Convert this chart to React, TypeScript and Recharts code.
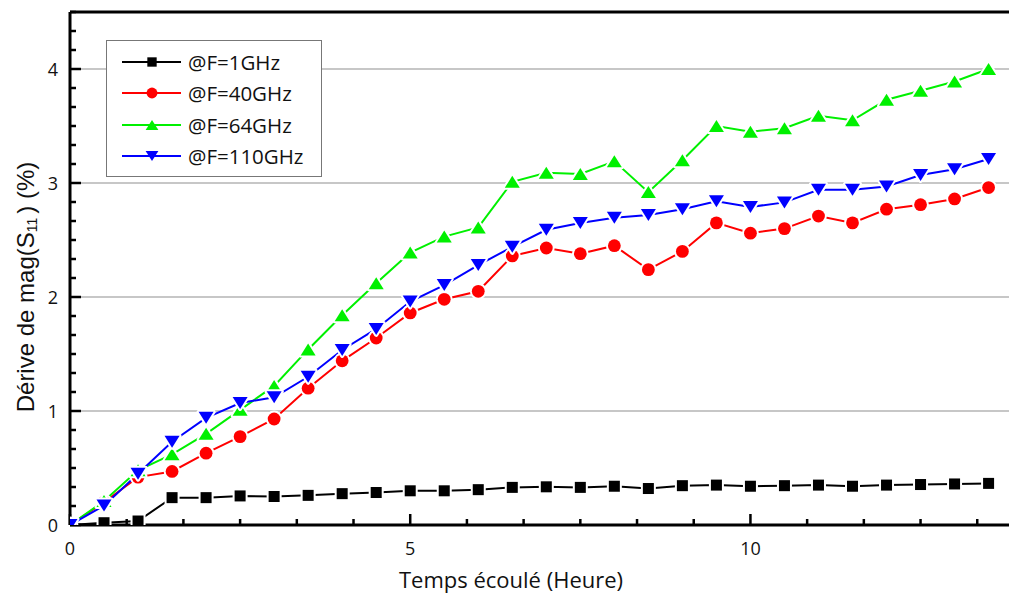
import { LineChart, Line, XAxis, YAxis, ReferenceLine } from 'recharts';

// elapsed time (hours)
const hours = [0, 0.5, 1, 1.5, 2, 2.5, 3, 3.5, 4, 4.5, 5, 5.5, 6, 6.5, 7, 7.5, 8, 8.5, 9, 9.5, 10, 10.5, 11, 11.5, 12, 12.5, 13, 13.5];

// drift of mag(S11) in %
const f1GHz = [0, 0.02, 0.035, 0.24, 0.24, 0.255, 0.25, 0.26, 0.275, 0.285, 0.3, 0.3, 0.31, 0.33, 0.335, 0.33, 0.34, 0.32, 0.345, 0.35, 0.34, 0.345, 0.35, 0.34, 0.35, 0.355, 0.36, 0.365];
const f40GHz = [0, 0.2, 0.42, 0.47, 0.63, 0.775, 0.93, 1.2, 1.44, 1.64, 1.86, 1.98, 2.05, 2.36, 2.43, 2.38, 2.45, 2.24, 2.4, 2.65, 2.56, 2.6, 2.71, 2.65, 2.77, 2.81, 2.86, 2.96];
const f64GHz = [0, 0.21, 0.48, 0.62, 0.8, 1.01, 1.22, 1.54, 1.84, 2.12, 2.39, 2.53, 2.61, 3.01, 3.09, 3.08, 3.19, 2.92, 3.2, 3.5, 3.45, 3.48, 3.59, 3.55, 3.73, 3.81, 3.89, 4.0];
const f110GHz = [0, 0.17, 0.45, 0.73, 0.94, 1.07, 1.12, 1.3, 1.535, 1.72, 1.96, 2.105, 2.28, 2.44, 2.59, 2.65, 2.695, 2.72, 2.77, 2.84, 2.79, 2.83, 2.94, 2.94, 2.97, 3.07, 3.12, 3.21];

const xMajorTicks = [0, 5, 10];
const yMajorTicks = [0, 1, 2, 3, 4];
const xMinorStep = 5 / 6;
const yMinorStep = 1 / 6;

const data = hours.map((h, i) => ({
  h,
  f1: f1GHz[i],
  f40: f40GHz[i],
  f64: f64GHz[i],
  f110: f110GHz[i],
}));

const xMinorTicks = Array.from({ length: 17 }, (_, i) => i * xMinorStep);
const yMinorTicks = Array.from({ length: 28 }, (_, i) => i * yMinorStep);

const W = 1009;
const H = 594;
const M = { top: 12, left: 70, bottom: 69 };
const X_DOMAIN: [number, number] = [0, 13.8];
const Y_DOMAIN: [number, number] = [0, 4.5];
const FONT = "'Open Sans', sans-serif";

// pixel lengths of the inward tick marks, turned into axis units
const xUnitsPerPx = (X_DOMAIN[1] - X_DOMAIN[0]) / (W - M.left);
const yUnitsPerPx = (Y_DOMAIN[1] - Y_DOMAIN[0]) / (H - M.top - M.bottom);
const MAJOR_LEN = 11;
const MINOR_LEN = 6;

const isMajor = (v: number, majors: number[]) => majors.some((m) => Math.abs(m - v) < 1e-6);

type Shape = 'square' | 'circle' | 'up' | 'down';

const series: { key: string; name: string; color: string; shape: Shape }[] = [
  { key: 'f1', name: '@F=1GHz', color: '#000000', shape: 'square' },
  { key: 'f40', name: '@F=40GHz', color: '#ff0000', shape: 'circle' },
  { key: 'f64', name: '@F=64GHz', color: '#00f000', shape: 'up' },
  { key: 'f110', name: '@F=110GHz', color: '#0000ff', shape: 'down' },
];

function Marker({ cx, cy, shape, color, size = 1, halo = false }: { cx: number; cy: number; shape: Shape; color: string; size?: number; halo?: boolean }) {
  const stroke = halo ? '#fff' : 'none';
  const sw = halo ? 4 : 0;
  if (shape === 'square') {
    const s = 11 * size;
    return <rect x={cx - s / 2} y={cy - s / 2} width={s} height={s} fill={color} stroke={stroke} strokeWidth={sw} paintOrder="stroke" />;
  }
  if (shape === 'circle') {
    return <circle cx={cx} cy={cy} r={6.4 * size} fill={color} stroke={stroke} strokeWidth={sw} paintOrder="stroke" />;
  }
  const w = 15 * size;
  const hgt = 12 * size;
  const pts =
    shape === 'up'
      ? `${cx - w / 2},${cy + hgt / 2} ${cx + w / 2},${cy + hgt / 2} ${cx},${cy - hgt / 2}`
      : `${cx - w / 2},${cy - hgt / 2} ${cx + w / 2},${cy - hgt / 2} ${cx},${cy + hgt / 2}`;
  return <polygon points={pts} fill={color} stroke={stroke} strokeWidth={sw} paintOrder="stroke" strokeLinejoin="round" />;
}

const makeDot = (shape: Shape, color: string) => (props: any) => {
  const { cx, cy, index } = props;
  if (cx == null || cy == null) return <g key={`d-${index}`} />;
  return (
    <g key={`d-${index}`}>
      <Marker cx={cx} cy={cy} shape={shape} color={color} halo />
    </g>
  );
};

const XTick = (props: any) => {
  const { x, y, payload } = props;
  return (
    <text x={x} y={y + 23} textAnchor="middle" dominantBaseline="central" fontFamily={FONT} fontSize={18} fill="#111">
      {payload.value}
    </text>
  );
};

const YTick = (props: any) => {
  const { x, y, payload } = props;
  return (
    <text x={x - 12} y={y} textAnchor="end" dominantBaseline="central" fontFamily={FONT} fontSize={18} fill="#111">
      {payload.value}
    </text>
  );
};

const YLabel = () => (
  <text
    x={25}
    y={287}
    transform="rotate(-90, 25, 287)"
    textAnchor="middle"
    dominantBaseline="central"
    fontFamily="'Liberation Sans', Arial, sans-serif"
    fontSize={24}
    fill="#111"
  >
    Dérive de mag(S
    <tspan fontSize={14} dy={7}>11</tspan>
    <tspan dy={-7} dx={4}>) (%)</tspan>
  </text>
);

const XLabel = () => (
  <text x={511} y={579} textAnchor="middle" dominantBaseline="central" fontFamily={FONT} fontSize={22} fill="#111">
    Temps écoulé (Heure)
  </text>
);

function LegendBox() {
  return (
    <div
      style={{
        position: 'absolute',
        left: 106,
        top: 40,
        width: 216,
        height: 137,
        boxSizing: 'border-box',
        border: '1.5px solid #777',
        background: '#fff',
        fontFamily: FONT,
        fontSize: 20.5,
        color: '#111',
        paddingTop: 5,
      }}
    >
      {series.map((s) => (
        <div key={s.key} style={{ display: 'flex', alignItems: 'center', height: 31.5 }}>
          <svg width={80} height={24} style={{ marginLeft: 15, flexShrink: 0 }}>
            <line x1={0} x2={59} y1={12} y2={12} stroke={s.color} strokeWidth={2} />
            <Marker cx={30} cy={12} shape={s.shape} color={s.color} size={0.85} />
          </svg>
          <span style={{ marginLeft: -14, whiteSpace: 'nowrap' }}>{s.name}</span>
        </div>
      ))}
    </div>
  );
}

export default function App() {
  return (
    <div style={{ position: 'absolute', left: 0, top: 0, width: W, height: H, background: '#fff' }}>
      <LineChart width={W} height={H} data={data} margin={{ top: M.top, right: 0, left: 0, bottom: 0 }}>
        <XAxis
          dataKey="h"
          type="number"
          domain={X_DOMAIN}
          allowDataOverflow
          ticks={xMajorTicks}
          interval={0}
          tick={<XTick />}
          tickLine={false}
          tickSize={0}
          tickMargin={0}
          height={M.bottom}
          axisLine={{ stroke: '#000', strokeWidth: 3 }}
          label={<XLabel />}
        />
        <YAxis
          type="number"
          domain={Y_DOMAIN}
          allowDataOverflow
          ticks={yMajorTicks}
          interval={0}
          tick={<YTick />}
          tickLine={false}
          tickSize={0}
          tickMargin={0}
          width={M.left}
          axisLine={{ stroke: '#000', strokeWidth: 3 }}
          label={<YLabel />}
        />
        {yMajorTicks
          .filter((v) => v > 0)
          .map((v) => (
            <ReferenceLine key={`g-${v}`} y={v} stroke="#b4b4b4" strokeWidth={1.5} />
          ))}
        <ReferenceLine y={Y_DOMAIN[1]} stroke="#000" strokeWidth={3} ifOverflow="visible" />
        {/* inward tick marks */}
        {xMinorTicks.map((t) => (
          <ReferenceLine
            key={`xt-${t}`}
            segment={[
              { x: t, y: 0 },
              { x: t, y: (isMajor(t, xMajorTicks) ? MAJOR_LEN : MINOR_LEN) * yUnitsPerPx },
            ]}
            stroke="#000"
            strokeWidth={2.5}
            ifOverflow="visible"
          />
        ))}
        {yMinorTicks.map((t) => (
          <ReferenceLine
            key={`yt-${t}`}
            segment={[
              { x: 0, y: t },
              { x: (isMajor(t, yMajorTicks) ? MAJOR_LEN : MINOR_LEN) * xUnitsPerPx, y: t },
            ]}
            stroke="#000"
            strokeWidth={2.5}
            ifOverflow="visible"
          />
        ))}
        {series.map((s) => (
          <Line
            key={s.key}
            type="linear"
            dataKey={s.key}
            name={s.name}
            stroke={s.color}
            strokeWidth={2}
            dot={makeDot(s.shape, s.color)}
            activeDot={false}
            isAnimationActive={false}
          />
        ))}
      </LineChart>
      <LegendBox />
    </div>
  );
}
